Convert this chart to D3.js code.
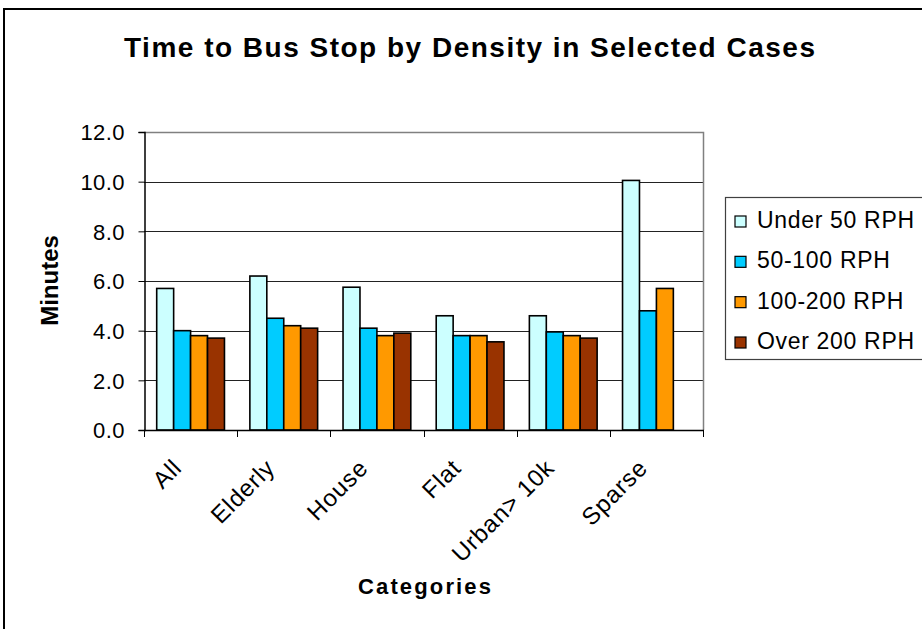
<!DOCTYPE html>
<html>
<head>
<meta charset="utf-8">
<script src="https://cdn.jsdelivr.net/npm/d3@7"></script>
<style>
  html, body { margin: 0; padding: 0; background: #fff; }
  svg { display: block; font-family: "Liberation Sans", Arial, sans-serif; }
</style>
</head>
<body>
<svg id="chart" width="922" height="629"></svg>
<script>
// Categories and density bands
const categories = ["All", "Elderly", "House", "Flat", "Urban> 10k", "Sparse"];
const seriesNames = ["Under 50 RPH", "50-100 RPH", "100-200 RPH", "Over 200 RPH"];
const seriesColors = ["#CCFFFF", "#00CCFF", "#FF9900", "#993300"];

// Minutes to the bus stop, one array per density band
const under50 = [5.7, 6.2, 5.75, 4.6, 4.6, 10.05];
const rph50to100 = [4.0, 4.5, 4.1, 3.8, 3.95, 4.8];
const rph100to200 = [3.8, 4.2, 3.8, 3.8, 3.8, 5.7];
const over200 = [3.7, 4.1, 3.9, 3.55, 3.7, null];

const yTicks = [0, 2, 4, 6, 8, 10, 12];

const seriesValues = [under50, rph50to100, rph100to200, over200];

const svg = d3.select("#chart");

// outer chart frame
svg.append("rect")
  .attr("x", 4).attr("y", 9)
  .attr("width", 1000).attr("height", 1000)
  .attr("fill", "#fff").attr("stroke", "#000").attr("stroke-width", 2);

const plot = { left: 144, right: 703, top: 132, bottom: 430 };

const x = d3.scaleBand().domain(categories).range([plot.left, plot.right]);
const bw = x.bandwidth();
const edge = bw * 0.75 / 5.5;
const xs = d3.scaleBand().domain(seriesNames).range([edge, bw - edge]);
const y = d3.scaleLinear().domain([0, 12]).range([plot.bottom, plot.top]);

// grid lines
svg.append("g")
  .selectAll("line")
  .data(yTicks.filter(d => d > 0 && d < 12))
  .join("line")
  .attr("x1", plot.left).attr("x2", plot.right)
  .attr("y1", d => Math.round(y(d)) + 0.5).attr("y2", d => Math.round(y(d)) + 0.5)
  .attr("stroke", "#222").attr("stroke-width", 1);

// plot area border (top and right)
svg.append("path")
  .attr("d", `M${plot.left},${plot.top + 0.5}H${plot.right + 0.5}V${plot.bottom}`)
  .attr("fill", "none").attr("stroke", "#808080").attr("stroke-width", 1.5);

// bars
const rows = [];
categories.forEach((c, i) => {
  seriesNames.forEach((s, j) => {
    const v = seriesValues[j][i];
    if (v != null) rows.push({ c, s, v, color: seriesColors[j] });
  });
});

svg.append("g")
  .selectAll("rect")
  .data(rows)
  .join("rect")
  .attr("x", d => x(d.c) + xs(d.s))
  .attr("y", d => y(d.v))
  .attr("width", xs.bandwidth())
  .attr("height", d => y(0) - y(d.v))
  .attr("fill", d => d.color)
  .attr("stroke", "#000")
  .attr("stroke-width", 1.6);

// y axis
const yAxis = svg.append("g")
  .attr("transform", `translate(${plot.left + 0.5},0)`)
  .call(d3.axisLeft(y).tickValues(yTicks).tickSize(6).tickPadding(14)
    .tickFormat(d3.format(".1f")));
yAxis.select(".domain").attr("stroke", "#000").attr("stroke-width", 1.5);
yAxis.selectAll(".tick line").attr("stroke", "#000");
yAxis.selectAll(".tick text")
  .attr("font-size", 22)
  .attr("font-family", "'Liberation Sans', Arial, sans-serif")
  .attr("fill", "#000")
  .attr("dy", "0.36em")
  .each(function () {
    this.setAttribute("textLength", this.getComputedTextLength() * 1.03);
  });

// x axis baseline and category divider ticks
const xAxis = svg.append("g");
xAxis.append("line")
  .attr("x1", plot.left).attr("x2", plot.right + 1)
  .attr("y1", plot.bottom + 0.5).attr("y2", plot.bottom + 0.5)
  .attr("stroke", "#000").attr("stroke-width", 1.5);
const dividers = categories.map(c => x(c)).concat([x(categories[categories.length - 1]) + bw]);
xAxis.selectAll("line.tick")
  .data(dividers)
  .join("line")
  .attr("class", "tick")
  .attr("x1", d => Math.round(d) + 0.5).attr("x2", d => Math.round(d) + 0.5)
  .attr("y1", plot.bottom).attr("y2", plot.bottom + 7)
  .attr("stroke", "#000").attr("stroke-width", 1);

// rotated category labels
xAxis.selectAll("text")
  .data(categories)
  .join("text")
  .attr("transform", d => `translate(${x(d) + bw / 2 - 8},${plot.bottom + 40}) rotate(-45)`)
  .attr("text-anchor", "end")
  .attr("font-size", 24)
  .attr("fill", "#000")
  .text(d => d)
  .each(function () {
    this.setAttribute("textLength", this.getComputedTextLength() * 1.06);
  });

// title
svg.append("text")
  .attr("x", 469.5).attr("y", 57)
  .attr("text-anchor", "middle")
  .attr("font-size", 28).attr("font-weight", "bold")
  .text("Time to Bus Stop by Density in Selected Cases")
  .each(function () { this.setAttribute("textLength", 691); });

// axis titles
svg.append("text")
  .attr("transform", "translate(58,280.5) rotate(-90)")
  .attr("text-anchor", "middle")
  .attr("font-size", 24).attr("font-weight", "bold")
  .text("Minutes");

svg.append("text")
  .attr("x", 424.5).attr("y", 594)
  .attr("text-anchor", "middle")
  .attr("font-size", 22).attr("font-weight", "bold")
  .text("Categories")
  .each(function () { this.setAttribute("textLength", 133); });

// legend
const legend = svg.append("g");
legend.append("rect")
  .attr("x", 725.5).attr("y", 197.5)
  .attr("width", 300).attr("height", 162)
  .attr("fill", "#fff").attr("stroke", "#404040").attr("stroke-width", 1.2);

const legendRow = d3.scalePoint().domain(seriesNames).range([228, 349]);
const items = legend.selectAll("g.item")
  .data(seriesNames)
  .join("g")
  .attr("class", "item")
  .attr("transform", d => `translate(0,${legendRow(d)})`);
items.append("rect")
  .attr("x", 735).attr("y", -12)
  .attr("width", 11).attr("height", 11)
  .attr("fill", (d, i) => seriesColors[i])
  .attr("stroke", "#000").attr("stroke-width", 1.2);
items.append("text")
  .attr("x", 757).attr("y", 0)
  .attr("font-size", 23)
  .attr("fill", "#000")
  .text(d => d)
  .each(function () {
    this.setAttribute("textLength", this.getComputedTextLength() * 1.05);
  });
</script>
</body>
</html>
